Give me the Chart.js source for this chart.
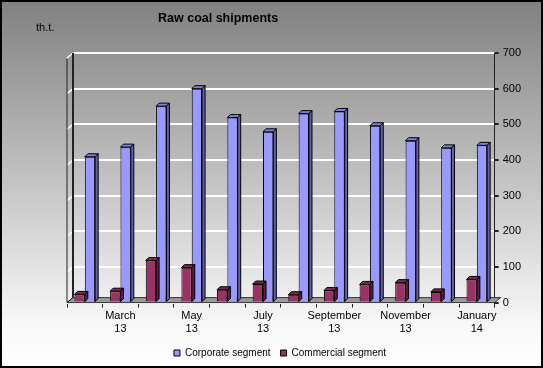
<!DOCTYPE html>
<html>
<head>
<meta charset="utf-8">
<script src="https://cdn.jsdelivr.net/npm/chart.js@4"></script>
<style>
  body { margin: 0; }
  #wrap { position: relative; width: 543px; height: 368px; font-family: "Liberation Sans", Arial, sans-serif; }
  #title { position: absolute; left: 158px; top: 11px; font-size: 12.5px; font-weight: bold; color: #000; }
  #unit { position: absolute; left: 36px; top: 21px; font-size: 11px; color: #000; }
  canvas { position: absolute; left: 0; top: 0; }
</style>
</head>
<body>
<div id="wrap">
  <canvas id="chart" width="543" height="368"></canvas>
  <div id="title">Raw coal shipments</div>
  <div id="unit">th.t.</div>
</div>
<script>
const months = ['February 13', 'March 13', 'April 13', 'May 13', 'June 13', 'July 13',
  'August 13', 'September 13', 'October 13', 'November 13', 'December 13', 'January 14'];
const tickLabels = [[], ['March', '13'], [], ['May', '13'], [], ['July', '13'],
  [], ['September', '13'], [], ['November', '13'], [], ['January', '14']];
const corporate = [409, 436, 551, 600, 519, 479, 530, 536, 496, 454, 434, 441];
const commercial = [23, 32, 118, 98, 36, 52, 22, 34, 51, 56, 30, 65];
const yTicks = [0, 100, 200, 300, 400, 500, 600, 700];

const depth = 3;
const wallDepth = 6;
const faceColors = {
  'Commercial segment': { top: '#7a2850', side: '#5e1f3e' },
  'Corporate segment': { top: '#7f7fd6', side: '#6262a6' }
};

function bgGradient(chart) {
  const g = chart.ctx.createLinearGradient(0, 0, 0, chart.height);
  g.addColorStop(0, '#808080');
  g.addColorStop(0.88, '#f8f8f8');
  g.addColorStop(1, '#ffffff');
  return g;
}

// gradient background + border
const background = {
  id: 'background',
  beforeDraw(chart) {
    const ctx = chart.ctx;
    ctx.save();
    ctx.fillStyle = bgGradient(chart);
    ctx.fillRect(0, 0, chart.width, chart.height);
    ctx.strokeStyle = '#000';
    ctx.lineWidth = 2;
    ctx.strokeRect(1, 1, chart.width - 2, chart.height - 2);
    ctx.restore();
  }
};

// floor and left wall
const walls = {
  id: 'walls',
  beforeDatasetsDraw(chart) {
    const { left, right, top, bottom } = chart.chartArea;
    const yScale = chart.scales.y;
    const ctx = chart.ctx;
    const d = wallDepth;
    ctx.save();
    // left wall strip
    ctx.fillStyle = bgGradient(chart);
    ctx.fillRect(left - 1, top - 1, d + 1, bottom - top + 2);
    ctx.strokeStyle = '#ffffff';
    ctx.lineWidth = 1.5;
    yTicks.slice(1).forEach(v => {
      const py = yScale.getPixelForValue(v);
      ctx.beginPath();
      ctx.moveTo(left, py + d - 1);
      ctx.lineTo(left + d, py);
      ctx.stroke();
    });
    // floor
    ctx.fillStyle = '#9a9a9a';
    ctx.strokeStyle = '#333';
    ctx.lineWidth = 1;
    ctx.beginPath();
    ctx.moveTo(left, bottom);
    ctx.lineTo(right, bottom);
    ctx.lineTo(right + d, bottom - d + 1);
    ctx.lineTo(left + d, bottom - d + 1);
    ctx.closePath();
    ctx.fill();
    ctx.stroke();
    ctx.strokeStyle = '#222';
    ctx.lineWidth = 2;
    ctx.beginPath();
    ctx.moveTo(left + d, top);
    ctx.lineTo(left + d, bottom - d + 1);
    ctx.stroke();
    ctx.lineWidth = 1;
    ctx.beginPath();
    ctx.moveTo(left, top + d);
    ctx.lineTo(left, bottom);
    ctx.lineTo(left + d, bottom - d + 1);
    ctx.stroke();
    ctx.restore();
  }
};

// top and side faces of each column
const columns3d = {
  id: 'columns3d',
  afterDatasetDraw(chart, args) {
    const ctx = chart.ctx;
    const ds = chart.data.datasets[args.index];
    const fc = faceColors[ds.label];
    ctx.save();
    ctx.strokeStyle = '#000';
    ctx.lineWidth = 1;
    args.meta.data.forEach(bar => {
      const { x, y, base, width } = bar.getProps(['x', 'y', 'base', 'width'], true);
      const l = x - width / 2, r = x + width / 2;
      ctx.fillStyle = fc.top;
      ctx.beginPath();
      ctx.moveTo(l, y);
      ctx.lineTo(l + depth, y - depth);
      ctx.lineTo(r + depth, y - depth);
      ctx.lineTo(r, y);
      ctx.closePath();
      ctx.fill();
      ctx.stroke();
      ctx.fillStyle = fc.side;
      ctx.beginPath();
      ctx.moveTo(r, y);
      ctx.lineTo(r + depth, y - depth);
      ctx.lineTo(r + depth, base - depth);
      ctx.lineTo(r, base);
      ctx.closePath();
      ctx.fill();
      ctx.stroke();
    });
    ctx.restore();
  }
};

new Chart(document.getElementById('chart'), {
  type: 'bar',
  data: {
    labels: months,
    datasets: [{
      label: 'Commercial segment',
      data: commercial,
      backgroundColor: '#993366',
      borderColor: '#000',
      borderWidth: 1
    }, {
      label: 'Corporate segment',
      data: corporate,
      backgroundColor: '#9999ff',
      borderColor: '#000',
      borderWidth: 1
    }]
  },
  options: {
    responsive: false,
    animation: false,
    devicePixelRatio: 1,
    layout: { padding: { left: 35, right: 18, top: 53, bottom: 0 } },
    datasets: { bar: { categoryPercentage: 0.58, barPercentage: 1 } },
    scales: {
      x: {
        offset: true,
        border: { display: false },
        grid: { offset: true, drawOnChartArea: false, tickLength: 5, tickColor: '#222' },
        ticks: {
          autoSkip: false,
          maxRotation: 0,
          padding: 2,
          color: '#000',
          font: { family: '"Liberation Sans", Arial, sans-serif', size: 11 },
          callback: (v, i) => tickLabels[i]
        }
      },
      y: {
        position: 'right',
        min: 0,
        max: 700,
        border: { display: true, color: '#222', width: 1 },
        grid: { color: '#ffffff', lineWidth: 2, tickLength: 4, tickColor: '#222' },
        afterBuildTicks: axis => { axis.ticks = yTicks.map(v => ({ value: v })); },
        ticks: {
          padding: 4,
          color: '#000',
          font: { family: '"Liberation Sans", Arial, sans-serif', size: 11 }
        }
      },
      // empty left axis, only reserves the space left of the plot
      side: {
        position: 'left',
        border: { display: false },
        grid: { display: false },
        ticks: { display: false },
        afterFit: axis => { axis.width = 32; }
      }
    },
    plugins: {
      legend: {
        position: 'bottom',
        reverse: true,
        labels: {
          boxWidth: 6,
          boxHeight: 6,
          padding: 10,
          color: '#000',
          font: { family: '"Liberation Sans", Arial, sans-serif', size: 10 }
        }
      },
      tooltip: { enabled: false }
    }
  },
  plugins: [background, walls, columns3d]
});
</script>
</body>
</html>
